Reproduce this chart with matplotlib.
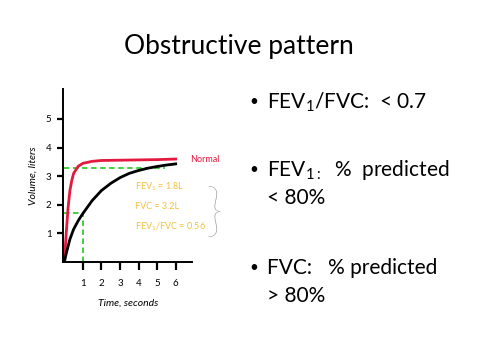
import matplotlib
matplotlib.use('Agg')

import matplotlib.pyplot as plt

plt.rcParams['font.family'] = ['Lato', 'DejaVu Sans']
plt.rcParams['mathtext.default'] = 'regular'

# curves (time in s, volume in L)
t_normal = [0, 0.1, 0.2, 0.3, 0.4, 0.5, 0.75, 1.0, 1.5, 2, 3, 4, 5, 6]
v_normal = [0, 1.0, 1.9, 2.5, 2.85, 3.1, 3.35, 3.45, 3.52, 3.55, 3.56, 3.57, 3.58, 3.6]

t_obstr = [0, 0.1, 0.2, 0.3, 0.5, 0.75, 1, 1.5, 2, 2.5, 3, 3.5, 4, 4.5, 5, 5.5, 6]
v_obstr = [0, 0.3, 0.55, 0.8, 1.15, 1.45, 1.7, 2.15, 2.5, 2.75, 2.95, 3.1, 3.2, 3.28, 3.34, 3.39, 3.43]

fvc_level = 3.3
fvc_time_end = 5.4
fev1_level = 1.7
fev1_time = 1

x_ticks = [1, 2, 3, 4, 5, 6]
y_ticks = [1, 2, 3, 4, 5]

notes = ['FEV$_1$ = 1.8L', 'FVC = 3.2L', 'FEV$_1$/FVC = 0.56']
bullets = [('FEV$_1$/FVC:  < 0.7', None),
           ('FEV$_{1:}$  %  predicted', '< 80%'),
           ('FVC:   % predicted', '> 80%')]

narrow = ['Liberation Sans Narrow', 'Lato', 'DejaVu Sans']

fig = plt.figure(figsize=(4.8, 3.6), dpi=100)
fig.text(0.498, 0.872, 'Obstructive pattern', ha='center', va='center', fontsize=19)

ax = fig.add_axes([0.132, 0.272, 0.268, 0.481])
green = '#33cc33'
ax.plot([0, fvc_time_end], [fvc_level, fvc_level], color=green, ls='--', lw=1.3, dashes=(3, 2))
ax.plot([0, fev1_time], [fev1_level, fev1_level], color=green, ls='--', lw=1.3, dashes=(3, 2))
ax.plot([fev1_time, fev1_time], [0, fev1_level], color=green, ls='--', lw=1.3, dashes=(3, 2))
ax.plot(t_normal, v_normal, color='#e3193f', lw=2)
ax.plot(t_obstr, v_obstr, color='black', lw=2)

ax.set_xlim(-0.054, 6.88)
ax.set_ylim(0, 6.05)
ax.spines['top'].set_visible(False)
ax.spines['right'].set_visible(False)
ax.spines['left'].set_linewidth(1.4)
ax.spines['bottom'].set_linewidth(1.4)
ax.set_xticks(x_ticks)
ax.set_yticks(y_ticks)
ax.tick_params(axis='x', direction='out', length=6, width=1.6, pad=6, labelsize=7)
ax.tick_params(axis='y', direction='out', length=4, width=1.6, pad=4.5, labelsize=7)
for lab in ax.get_xticklabels() + ax.get_yticklabels():
    lab.set_family(narrow)
ax.set_xlabel('Time, seconds', fontsize=7.5, style='italic', labelpad=8, family=narrow)
ax.set_ylabel('Volume, liters', fontsize=7.5, style='italic', labelpad=6, family=narrow)

ax.text(6.78, 3.6, 'Normal', color='#e3193f', fontsize=6.5, ha='left', va='center',
        clip_on=False, family=narrow)
for i, s in enumerate(notes):
    ax.text(3.8, 2.63 - i * 0.7, s, color='#f2c040', fontsize=6.5, ha='left', va='center',
            family=narrow)
fig.text(0.446, 0.405, '}', color='#999999', fontsize=42, fontweight='light',
         ha='center', va='center')

ys = [0.717, 0.528, 0.255]
for (line1, line2), y in zip(bullets, ys):
    fig.text(0.528, y, '\u2022', fontsize=11, ha='center', va='center')
    fig.text(0.556, y, line1, fontsize=15, ha='left', va='center')
    if line2:
        fig.text(0.556, y - 0.078, line2, fontsize=15, ha='left', va='center')

fig.savefig('out.png', dpi=100)
plt.close(fig)
